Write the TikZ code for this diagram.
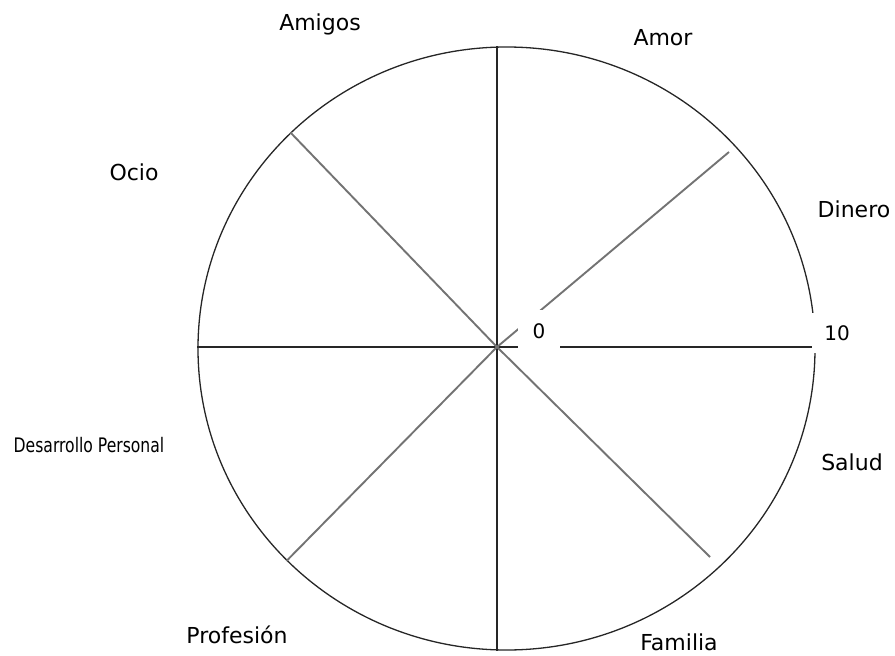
\documentclass[tikz,border=0pt]{standalone}
\usepackage{fontspec}
\setmainfont{DejaVu Sans}
\newfontfamily\narrowfont[FakeStretch=0.78]{DejaVu Sans}
\usetikzlibrary{shapes.geometric, positioning}
\tikzstyle{rim} = [ellipse, draw=black!85, line width=1.3pt, minimum width=617pt, minimum height=603pt, inner sep=0pt]
\tikzstyle{axis} = [draw=black!85, line width=1.3pt]
\tikzstyle{diag} = [draw=black!55, line width=1.9pt]
\tikzstyle{area} = [font=\fontsize{22}{26}\selectfont, inner sep=0pt, anchor=base]
\tikzstyle{scalelabel} = [fill=white, font=\fontsize{20}{24}\selectfont, inner sep=0pt]

\begin{document}
\begin{tikzpicture}[x=1pt, y=-1pt]
        \useasboundingbox (0,0) rectangle (895,656);
        \node[rim] (rueda) at (506.5,348.5) {};
        \coordinate (hub) at (497,347);
        \coordinate (amorend) at (729,152);
        \coordinate (familiaend) at (710,557);
        \draw[axis] (hub) -- (hub |- rueda.north);
        \draw[axis] (hub) -- (hub |- rueda.south);
        \draw[axis] (hub) -- (rueda.west |- hub);
        \draw[axis] (hub) -- (rueda.east |- hub);
        \draw[diag] (rueda.135) -- (hub);
        \draw[diag] (hub) -- (familiaend);
        \draw[diag] (rueda.224) -- (hub);
        \draw[diag] (hub) -- (amorend);
        % scale marks 0 and 10
        \node[scalelabel, minimum width=42pt, minimum height=42pt] (cero) at (539,331) {0};
        \node[scalelabel, minimum width=50pt, minimum height=40pt] (diez) at (837,333) {10};
        % areas
        \node[area] (amigos) at (320,30) {Amigos};
        \node[area] (amor) at (663,45) {Amor};
        \node[area] (ocio) at (134,180) {Ocio};
        \node[area] (dinero) at (854,217) {Dinero};
        \node[area] (salud) at (852,470) {Salud};
        \node[area, font=\narrowfont\fontsize{20}{24}\selectfont] (desarrollo) at (89,452) {Desarrollo Personal};
        \node[area] (profesion) at (237,643) {Profesión};
        \node[area] (familia) at (679,650) {Familia};
    \end{tikzpicture}
\end{document}
